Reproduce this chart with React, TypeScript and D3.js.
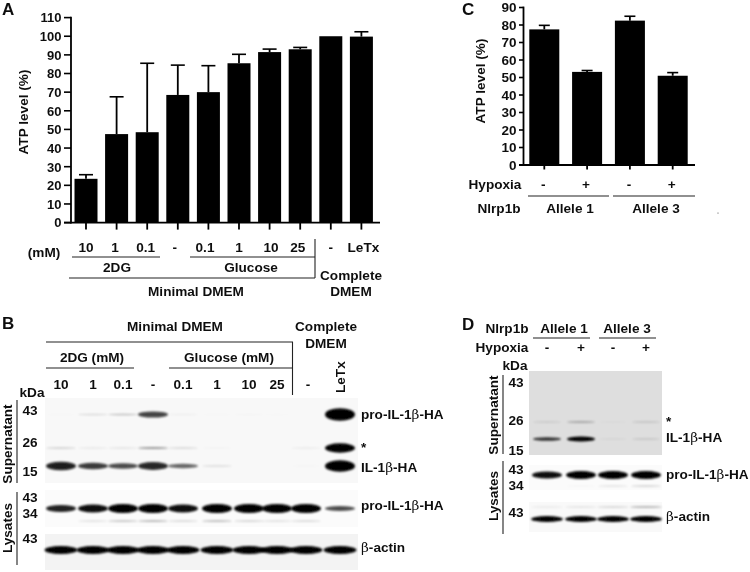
import React from "react";
import * as d3 from "d3";

// ---------- Data ----------
const atpValuesA = [23.5, 47.5, 48.5, 68.5, 70, 85.5, 91.5, 93, 100, 99.8];
const atpErrorsA = [2.2, 20, 37, 16, 14.2, 4.8, 1.6, 1, 0, 2.6];
const ticksA = d3.range(0, 111, 10);
const treatmentLabelsA = ["10", "1", "0.1", "-", "0.1", "1", "10", "25", "-", "LeTx"];

const atpValuesC = [77.5, 53.2, 82.5, 51];
const atpErrorsC = [2.3, 0.8, 2.5, 1.8];
const ticksC = d3.range(0, 91, 10);
const hypoxiaLabels = ["-", "+", "-", "+"];

const lanesB = ["10", "1", "0.1", "-", "0.1", "1", "10", "25", "-", "LeTx"];
const sup43B = [0.02, 0.16, 0.28, 0.75, 0.06, 0.02, 0.03, 0.01, 0, 1];
const sup26B = [0.22, 0.1, 0.12, 0.42, 0.18, 0.04, 0, 0, 0.08, 1];
const sup15B = [0.88, 0.78, 0.72, 0.85, 0.62, 0.12, 0, 0, 0.02, 1];
const lysMainB = [0.88, 0.95, 1, 1, 0.95, 1, 1, 1, 1, 0.72];
const lysLowB = [0, 0.15, 0.3, 0.38, 0.2, 0.35, 0.22, 0.16, 0.2, 0];
const actinB = [1, 1, 1, 1, 1, 1, 1, 1, 1, 1];

const supUpperD = [0.1, 0.28, 0.03, 0.13];
const sup15D = [0.8, 1, 0.05, 0.12];
const lysMainD = [0.95, 1, 1, 1];
const lysLowD = [0, 0.04, 0.14, 0.22];
const actinUpperD = [0.07, 0.1, 0.15, 0.3];
const actinD = [1, 1, 1, 1];

const FONT = "'Liberation Sans', Arial, sans-serif";
const LS = 13.6;

// ---------- Helpers ----------
type TProps = { x: number; y: number; s?: number; a?: "start" | "middle" | "end"; r?: number; children: React.ReactNode };
const T = ({ x, y, s = LS, a = "middle", r, children }: TProps) => (
  <text x={x} y={y} fontSize={s} textAnchor={a} fontWeight={700} fontFamily={FONT} fill="#111"
    transform={r !== undefined ? `rotate(${r} ${x} ${y})` : undefined}>{children}</text>
);
const L = ({ x1, y1, x2, y2, w = 1.1 }: { x1: number; y1: number; x2: number; y2: number; w?: number }) => (
  <line x1={x1} y1={y1} x2={x2} y2={y2} stroke="#222" strokeWidth={w} />
);
const Beta = () => <tspan fontFamily="'DejaVu Serif', serif" fontWeight={400}>β</tspan>;

type BarsProps = {
  values: number[]; errors: number[]; ticks: number[]; domainMax: number;
  yBottom: number; yTop: number; xFirst: number; step: number; barW: number;
  axisX: number; axisEnd: number; capW: number; fs: number; tickSlot: number;
};
function Bars({ values, errors, ticks, domainMax, yBottom, yTop, xFirst, step, barW, axisX, axisEnd, capW, fs, tickSlot }: BarsProps) {
  const y = d3.scaleLinear().domain([0, domainMax]).range([yBottom, yTop]);
  const x = d3.scaleLinear().domain([0, 1]).range([xFirst, xFirst + step]);
  return (
    <g>
      {values.map((v, i) => {
        const top = y(v + errors[i]);
        return (
          <g key={i}>
            {errors[i] > 0 && <line x1={x(i)} x2={x(i)} y1={y(v)} y2={top} stroke="#000" strokeWidth={1.8} />}
            {errors[i] > 0 && <line x1={x(i) - capW} x2={x(i) + capW} y1={top} y2={top} stroke="#000" strokeWidth={1.6} />}
            <rect x={x(i) - barW / 2} y={y(v)} width={barW} height={yBottom - y(v)} fill="#000" />
            <line x1={x(i)} x2={x(i)} y1={yBottom} y2={yBottom + tickSlot} stroke="#000" strokeWidth={1.8} />
          </g>
        );
      })}
      <line x1={axisX} x2={axisX} y1={yTop - 0.9} y2={yBottom + 1} stroke="#000" strokeWidth={1.8} />
      <line x1={axisX - tickSlot} x2={axisEnd} y1={yBottom} y2={yBottom} stroke="#000" strokeWidth={1.8} />
      {ticks.map((t) => (
        <g key={t}>
          <line x1={axisX - tickSlot} x2={axisX} y1={y(t)} y2={y(t)} stroke="#000" strokeWidth={1.6} />
          <T x={axisX - tickSlot - 2.5} y={y(t) + fs * 0.37} s={fs} a="end">{t}</T>
        </g>
      ))}
    </g>
  );
}

type BlotRow = { vals: number[]; y: number; thin: number; thick: number };
function Blot({ x0, x1, y0, y1, fill, lanes, bandW, rows }: {
  x0: number; x1: number; y0: number; y1: number; fill: string;
  lanes: number[]; bandW: number; rows: BlotRow[];
}) {
  return (
    <g>
      <rect x={x0} y={y0} width={x1 - x0} height={y1 - y0} fill={fill} />
      {rows.map((r, ri) => {
        const th = d3.scaleLinear().domain([0, 1]).range([r.thin, r.thick]);
        return r.vals.map((v, i) => v > 0 && (
          <ellipse key={ri + "-" + i} cx={lanes[i]} cy={r.y} rx={bandW / 2} ry={th(v * v * v) / 2}
            fill="#000" opacity={Math.pow(v, 1.1)} filter="url(#band)" />
        ));
      })}
    </g>
  );
}

export default function App() {
  const xA = d3.scaleLinear().domain([0, 1]).range([86, 116.6]);
  const xC = d3.scaleLinear().domain([0, 1]).range([544.3, 587.1]);
  const lanesXB = [61, 93, 123, 153, 183, 217, 249, 277, 306, 340];
  const lanesXD = [547, 581, 613, 646];
  const offA = [0, -1.5, -1.5, -3, -3.4, 0, 1.4, -2.5, 0, 2];
  return (
    <svg width={750} height={572} viewBox="0 0 750 572"
      style={{ position: "fixed", left: 0, top: 0, background: "#fff", display: "block" }}>
      <defs>
        <filter id="band" x="-30%" y="-150%" width="160%" height="400%">
          <feGaussianBlur stdDeviation="1.1 0.8" />
        </filter>
        <filter id="soft" x="0" y="0" width="100%" height="100%">
          <feGaussianBlur stdDeviation="0.35" />
        </filter>
      </defs>
      <g filter="url(#soft)">
      <rect x={0} y={0} width={750} height={572} fill="#fff" />

      {/* Panel A */}
      <T x={2} y={15} s={17} a="start">A</T>
      <Bars values={atpValuesA} errors={atpErrorsA} ticks={ticksA} domainMax={110} yBottom={222.6} yTop={17.6}
        xFirst={86} step={30.6} barW={23} axisX={71} axisEnd={380} capW={7} fs={13} tickSlot={7} />
      <T x={28} y={112} r={-90}>ATP level (%)</T>
      <T x={44} y={257}>(mM)</T>
      {treatmentLabelsA.map((l, i) => (
        <T key={i} x={xA(i) + offA[i]} y={252}>{l}</T>
      ))}
      <L x1={72} y1={257} x2={160} y2={257} />
      <L x1={190} y1={257} x2={315} y2={257} />
      <T x={117} y={272}>2DG</T>
      <T x={251} y={272}>Glucose</T>
      <L x1={69} y1={278} x2={315} y2={278} />
      <L x1={315} y1={239} x2={315} y2={278} />
      <T x={196} y={296}>Minimal DMEM</T>
      <T x={351} y={280}>Complete</T>
      <T x={351} y={296}>DMEM</T>

      {/* Panel C */}
      <T x={462} y={15} s={17} a="start">C</T>
      <Bars values={atpValuesC} errors={atpErrorsC} ticks={ticksC} domainMax={90} yBottom={165} yTop={7.5}
        xFirst={544.3} step={42.8} barW={30} axisX={523.5} axisEnd={695} capW={5.5} fs={13.5} tickSlot={4.5} />
      <T x={485} y={81} r={-90}>ATP level (%)</T>
      <T x={495} y={189}>Hypoxia</T>
      {hypoxiaLabels.map((l, i) => <T key={i} x={xC(i) - 1} y={189}>{l}</T>)}
      <L x1={528} y1={196} x2={609} y2={196} />
      <L x1={613} y1={196} x2={695} y2={196} />
      <T x={499} y={213}>Nlrp1b</T>
      <T x={570} y={213}>Allele 1</T>
      <T x={656} y={213}>Allele 3</T>
      <circle cx={718} cy={213} r={0.6} fill="#444" />

      {/* Panel B */}
      <T x={2} y={329} s={17} a="start">B</T>
      <T x={175} y={331}>Minimal DMEM</T>
      <T x={326} y={331}>Complete</T>
      <T x={326} y={348}>DMEM</T>
      <L x1={46} y1={342} x2={293} y2={342} />
      <L x1={292.5} y1={342} x2={292.5} y2={395} />
      <T x={92} y={362}>2DG (mM)</T>
      <T x={229} y={362}>Glucose (mM)</T>
      <L x1={46} y1={368} x2={134} y2={368} />
      <L x1={169} y1={368} x2={293} y2={368} />
      {lanesB.slice(0, 9).map((l, i) => <T key={i} x={lanesXB[i] + (i === 8 ? 2 : 0)} y={389}>{l}</T>)}
      <T x={345} y={393} a="start" r={-90}>LeTx</T>
      <T x={32} y={397}>kDa</T>
      <Blot x0={45} x1={358} y0={398} y1={483} fill="#f8f8f8" lanes={lanesXB} bandW={30}
        rows={[
          { vals: sup43B, y: 414.5, thin: 1.5, thick: 12.5 },
          { vals: sup26B, y: 448, thin: 1.5, thick: 9.5 },
          { vals: sup15B, y: 466, thin: 2, thick: 11.5 },
        ]} />
      <Blot x0={45} x1={358} y0={490} y1={527} fill="#fbfbfb" lanes={lanesXB} bandW={30}
        rows={[
          { vals: lysMainB, y: 508.5, thin: 2.5, thick: 9 },
          { vals: lysLowB, y: 521, thin: 1.5, thick: 3 },
        ]} />
      <Blot x0={45} x1={358} y0={534} y1={570} fill="#f3f3f3" lanes={lanesXB} bandW={33}
        rows={[{ vals: actinB, y: 550, thin: 3, thick: 8 }]} />
      <L x1={17} y1={400} x2={17} y2={483} />
      <L x1={17} y1={492} x2={17} y2={565} />
      <T x={12} y={444} r={-90}>Supernatant</T>
      <T x={12} y={528} r={-90}>Lysates</T>
      {[["43", 415], ["26", 447], ["15", 476], ["43", 502], ["34", 518], ["43", 543]].map(([t, y], i) => (
        <T key={i} x={30} y={Number(y)}>{t}</T>
      ))}
      <T x={361} y={419} a="start">pro-IL-1<Beta />-HA</T>
      <T x={361} y={452} a="start">*</T>
      <T x={361} y={472} a="start">IL-1<Beta />-HA</T>
      <T x={361} y={510} a="start">pro-IL-1<Beta />-HA</T>
      <T x={361} y={552} a="start"><Beta />-actin</T>

      {/* Panel D */}
      <T x={462} y={330} s={17} a="start">D</T>
      <T x={507} y={333}>Nlrp1b</T>
      <T x={564} y={333}>Allele 1</T>
      <T x={627} y={333}>Allele 3</T>
      <L x1={533} y1={338} x2={590} y2={338} />
      <L x1={599} y1={338} x2={656} y2={338} />
      <T x={502} y={352}>Hypoxia</T>
      {hypoxiaLabels.map((l, i) => <T key={i} x={lanesXD[i]} y={352}>{l}</T>)}
      <T x={515} y={370}>kDa</T>
      <Blot x0={529} x1={662} y0={371} y1={455} fill="#dedede" lanes={lanesXD} bandW={28}
        rows={[
          { vals: supUpperD, y: 422, thin: 2, thick: 3 },
          { vals: sup15D, y: 439, thin: 2, thick: 5 },
        ]} />
      <Blot x0={529} x1={662} y0={465} y1={490} fill="#fbfbfb" lanes={lanesXD} bandW={30}
        rows={[
          { vals: lysMainD, y: 475, thin: 2.5, thick: 8 },
          { vals: lysLowD, y: 486, thin: 1.5, thick: 2 },
        ]} />
      <Blot x0={529} x1={662} y0={502} y1={532} fill="#f9f9f9" lanes={lanesXD} bandW={32}
        rows={[
          { vals: actinUpperD, y: 507, thin: 2, thick: 2.5 },
          { vals: actinD, y: 519, thin: 3, thick: 6 },
        ]} />
      <L x1={503} y1={375} x2={503} y2={454} />
      <L x1={503} y1={461} x2={503} y2={534} />
      <T x={498} y={415} r={-90}>Supernatant</T>
      <T x={498} y={496} r={-90}>Lysates</T>
      {[["43", 387], ["26", 425], ["15", 455], ["43", 474], ["34", 490], ["43", 517]].map(([t, y], i) => (
        <T key={i} x={516} y={Number(y)}>{t}</T>
      ))}
      <T x={666} y={426} a="start">*</T>
      <T x={666} y={442} a="start">IL-1<Beta />-HA</T>
      <T x={666} y={479} a="start">pro-IL-1<Beta />-HA</T>
      <T x={666} y={521} a="start"><Beta />-actin</T>
      </g>
    </svg>
  );
}
